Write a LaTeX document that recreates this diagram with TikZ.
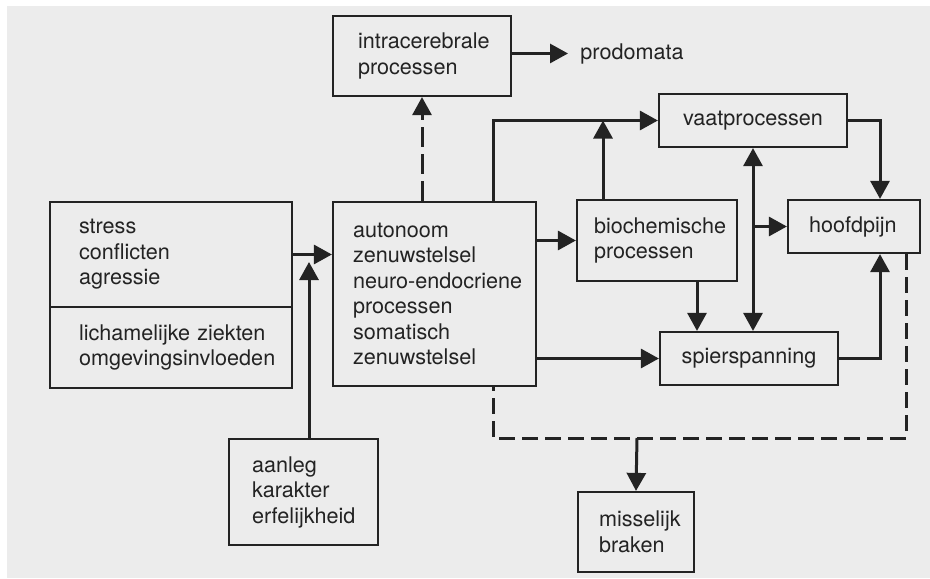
\documentclass[tikz,border=0pt]{standalone}
\usepackage{fontspec}
\setmainfont{TeX Gyre Heros}
\usetikzlibrary{arrows.meta,positioning,calc}

\definecolor{papier}{RGB}{236,236,236}
\definecolor{inkt}{RGB}{35,35,35}

\hyphenpenalty=10000
\exhyphenpenalty=10000

\begin{document}
\begin{tikzpicture}[x=0.5pt, y=-0.5pt, >={Triangle[length=9pt,width=9.5pt]},
    font=\fontsize{10.8}{12.75}\selectfont, text=inkt,
    blok/.style={draw=inkt, line width=1.1pt, inner ysep=0pt, align=left},
    pijl/.style={->, draw=inkt, line width=1.5pt},
    stippel/.style={draw=inkt, line width=1.5pt, dash pattern=on 8pt off 3.5pt}]
  % paper
  \useasboundingbox (0,0) rectangle (930,578);
  \fill[white] (0,0) rectangle (930,578);
  \fill[papier] (7,6) rectangle (930,578);

  % left column
  \node[blok, inner xsep=14.5pt, text width=92pt, minimum height=52.5pt] (stress) at (171,254.5) {stress\\conflicten\\agressie};
  \node[blok, inner xsep=14.5pt, text width=92pt, minimum height=40.5pt] (ziekten) at (171,347.5) {lichamelijke~ziekten\\omgevingsinvloeden};
  \node[blok, inner xsep=11.5pt, text width=51.5pt, minimum height=53pt] (aanleg) at (303.5,492) {aanleg\\karakter\\erfelijkheid};

  % middle
  \node[blok, inner xsep=10pt, text width=81.5pt, minimum height=92pt] (auto) at (434.5,294) {autonoom\\zenuwstelsel\\neuro-endocriene\\processen\\somatisch\\zenuwstelsel};
  \node[blok, inner xsep=12.5pt, text width=64pt, minimum height=40pt] (intra) at (422,56) {intracerebrale\\processen};
  \node[inner xsep=6pt, inner ysep=0pt, anchor=base west] (prodomata) at (568,59) {prodomata};

  % right
  \node[blok, align=center, minimum width=94pt, minimum height=26.5pt] (vaat) at (753,120.5) {vaatprocessen};
  \node[blok, inner xsep=8.5pt, text width=63pt, minimum height=40.5pt] (bio) at (657,240.5) {biochemische\\processen};
  \node[blok, inner xsep=10.5pt, text width=45pt, minimum height=26.5pt] (hoofd) at (854,226.5) {hoofdpijn};
  \node[blok, align=center, minimum width=89pt, minimum height=26.5pt] (spier) at (749,358.5) {spierspanning};
  \node[blok, inner xsep=10.5pt, text width=37pt, minimum height=40pt] (missel) at (636,532) {misselijk\\braken};

  \coordinate (inval) at (309,262);
  \coordinate (boven) at (493,120.5);
  \coordinate (splits) at (637,438);

  % connectors
  \draw[pijl] (stress.east) -- (stress.east -| auto.west);
  \draw[pijl] (aanleg.north -| inval) -- (inval);
  \draw[pijl, dash pattern=on 10pt off 3.5pt] (intra.south |- auto.north) -- (intra.south);
  \draw[pijl] (prodomata.west -| intra.east) -- (prodomata.west);
  \draw[pijl] (auto.north -| boven) -- (boven) -- (vaat.west);
  \draw[pijl] ([xshift=-27pt]bio.north) -- ([xshift=-27pt]bio.north |- vaat.west);
  \draw[pijl] (auto.east |- bio.west) -- (bio.west);
  \draw[pijl] (auto.east |- spier.west) -- (spier.west);
  \draw[pijl] ([xshift=20pt]bio.south) -- ([xshift=20pt]bio.south |- spier.north);
  \draw[pijl, <->] (vaat.south) -- (vaat.south |- spier.north);
  \draw[pijl] (vaat.south |- hoofd.west) -- (hoofd.west);
  \draw[pijl] (vaat.east) -| ([xshift=13pt]hoofd.north);
  \draw[pijl] (spier.east) -| ([xshift=13pt]hoofd.south);

  % dashed route to misselijk
  \draw[stippel] ([xshift=26pt]hoofd.south) |- (splits) -- (splits -| boven) -- (auto.south -| boven);
  \draw[pijl] (splits) -- (missel.north);
\end{tikzpicture}
\end{document}
